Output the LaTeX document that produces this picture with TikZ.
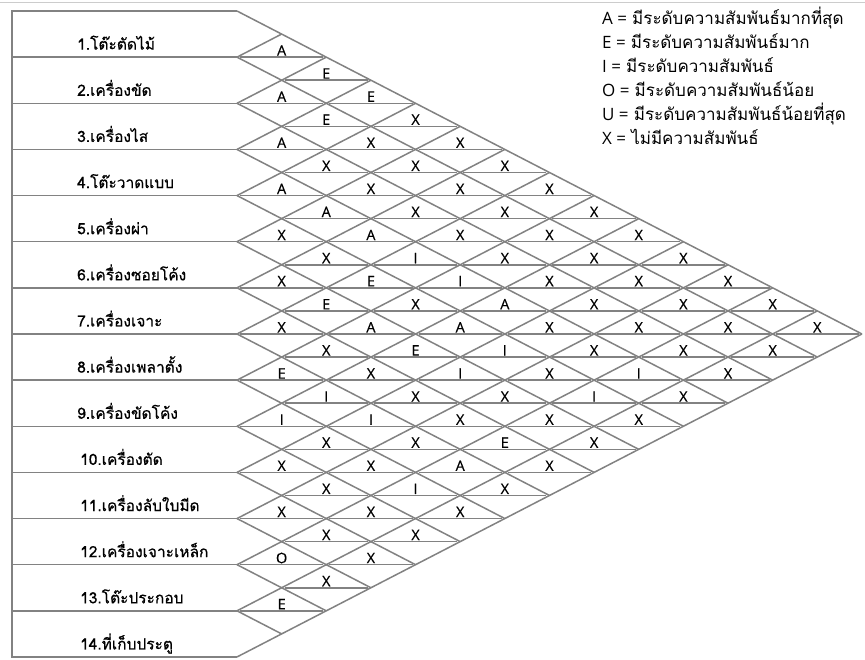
\documentclass[tikz,border=0pt]{standalone}
\usepackage{fontspec}
\newfontfamily\thaifont[Script=Thai]{Loma}
\newfontfamily\thaibold[Script=Thai,FakeBold=0.6]{Loma}
\newfontfamily\latf{Open Sans}
\newfontfamily\latb[FakeBold=0.5]{Open Sans}
\definecolor{ln}{RGB}{130,130,130}
\begin{document}
\begin{tikzpicture}[x=1pt,y=-1pt,
  grid/.style={draw=ln,line width=1.5pt},
  rel/.style={font=\latb\fontsize{14.5}{15}\selectfont, anchor=base, inner sep=0pt},
  lab/.style={font=\thaibold\fontsize{15.5}{16}\selectfont, anchor=base west, inner sep=0pt},
  leg/.style={anchor=base west, inner sep=0pt, font=\fontsize{17}{18}\selectfont}]
\useasboundingbox (0,0) rectangle (865,659);
\fill[white] (0,0) rectangle (865,659);
\draw[gray!40, line width=1pt] (0,2.5) -- (865,2.5);
\def\xa{237}\def\dx{44.64}\def\hh{23.07}
% left boxes
\foreach \r in {0,...,14} \draw[grid] (12,{11+2*\r*\hh}) -- (\xa,{11+2*\r*\hh});
\draw[grid] (12,10.3) -- (12,657.7);
% diagonals
\foreach \r in {0,...,13} \draw[grid] (\xa,{11+2*\r*\hh}) -- ({\xa+(14-\r)*\dx},{11+(14+\r)*\hh});
\foreach \r in {1,...,14} \draw[grid] (\xa,{11+2*\r*\hh}) -- ({\xa+\r*\dx},{11+\r*\hh});
% horizontal line in each diamond
\foreach \i in {1,...,13}{
  \pgfmathtruncatemacro\ii{\i+1}
  \foreach \j in {\ii,...,14}{
    \draw[grid] ({\xa+(\j-\i-1)*\dx+3},{11+(\i+\j-1)*\hh}) -- ({\xa+(\j-\i+1)*\dx-3},{11+(\i+\j-1)*\hh});
  }}
% relationship letters
\foreach \i/\j/\l in {
 1/2/A,1/3/E,1/4/E,1/5/X,1/6/X,1/7/X,1/8/X,1/9/X,1/10/X,1/11/X,1/12/X,1/13/X,1/14/X,
 2/3/A,2/4/E,2/5/X,2/6/X,2/7/X,2/8/X,2/9/X,2/10/X,2/11/X,2/12/X,2/13/X,2/14/X,
 3/4/A,3/5/X,3/6/X,3/7/X,3/8/X,3/9/X,3/10/X,3/11/X,3/12/X,3/13/X,3/14/X,
 4/5/A,4/6/A,4/7/A,4/8/I,4/9/I,4/10/A,4/11/X,4/12/X,4/13/I,4/14/X,
 5/6/X,5/7/X,5/8/E,5/9/X,5/10/A,5/11/I,5/12/X,5/13/I,5/14/X,
 6/7/X,6/8/E,6/9/A,6/10/E,6/11/I,6/12/X,6/13/X,6/14/X,
 7/8/X,7/9/X,7/10/X,7/11/X,7/12/X,7/13/E,7/14/X,
 8/9/E,8/10/I,8/11/I,8/12/X,8/13/A,8/14/X,
 9/10/I,9/11/X,9/12/X,9/13/I,9/14/X,
 10/11/X,10/12/X,10/13/X,10/14/X,
 11/12/X,11/13/X,11/14/X,
 12/13/O,12/14/X,
 13/14/E}
  \node[rel] (p\i-\j) at ({\xa+(\j-\i)*\dx},{11+(\i+\j-1)*\hh-1.5}) {\l};
% row labels
\foreach \n/\x/\t in {1/77/{1.โต๊ะตัดไม้},2/77/{2.เครื่องขัด},3/77/{3.เครื่องไส},4/77/{4.โต๊ะวาดแบบ},
 5/77/{5.เครื่องผ่า},6/77/{6.เครื่องซอยโค้ง},7/77/{7.เครื่องเจาะ},8/77/{8.เครื่องเพลาตั้ง},
 9/77/{9.เครื่องขัดโค้ง},10/80/{10.เครื่องตัด},11/80/{11.เครื่องลับใบมีด},12/80/{12.เครื่องเจาะเหล็ก},
 13/80/{13.โต๊ะประกอบ},14/80/{14.ที่เก็บประตู}}
  \node[lab] (row\n) at (\x,{11+2*\n*\hh-7.5}) {\t};
% legend
\node[leg] (legA) at (602,24) {{\latf A =} {\thaifont มีระดับความสัมพันธ์มากที่สุด}};
\node[leg] (legE) at (602,48) {{\latf E =} {\thaifont มีระดับความสัมพันธ์มาก}};
\node[leg] (legI) at (602,72) {{\latf I =} {\thaifont มีระดับความสัมพันธ์}};
\node[leg] (legO) at (602,96) {{\latf O =} {\thaifont มีระดับความสัมพันธ์น้อย}};
\node[leg] (legU) at (602,120) {{\latf U =} {\thaifont มีระดับความสัมพันธ์น้อยที่สุด}};
\node[leg] (legX) at (602,144) {{\latf X =} {\thaifont ไม่มีความสัมพันธ์}};
\end{tikzpicture}
\end{document}
